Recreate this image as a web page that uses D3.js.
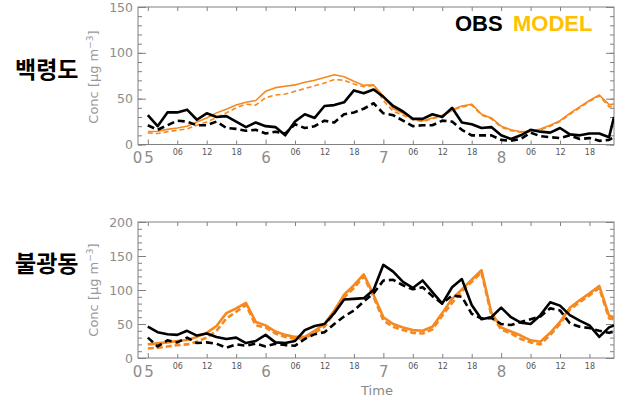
<!DOCTYPE html>
<html><head><meta charset="utf-8">
<script src="https://cdn.jsdelivr.net/npm/d3@7/dist/d3.min.js"></script>
<style>body{margin:0;background:#fff}svg{display:block}</style>
</head><body><svg id="chart" width="640" height="404"></svg>
<script>
// ---- data (hour from day 5 00h) ----
const hours = [0,2,4,6,8,10,12,14,16,18,20,22,24,26,28,30,32,34,36,38,40,42,44,46,48,50,52,54,56,58,60,62,64,66,68,70,72,74,76,78,80,82,84,86,88,90,92,94,95];
const dayTicks = [0,24,48,72];
const dayLabels = ["05","6","7","8"];
const hourTicks = [6,12,18,30,36,42,54,60,66,78,84,90];
const hourLabels = ["06","12","18","06","12","18","06","12","18","06","12","18"];
const stations = ["백령도","불광동"];
const legendLabels = ["OBS","MODEL"];

// 백령도
const topObsSolid = [32,20,35,35,38,27,34,30,31,25, 19,24,20,19,10,25,33,29,42,43, 46,59,56,60,52,42,36,28,28,33, 30,40,24,22,18,19,10,6,10,16, 14,13,18,11,10,12,12,8,30];
const topObsDash  = [21,16,21,26,25,21,21,25,18,17, 15,16,12,14,12,22,18,20,26,24, 33,35,39,45,34,32,26,20,21,21, 26,25,16,10,10,10,5,4,6,13, 9,8,7,10,6,7,4,5,8];
const topModSolid = [14,14.5,16.5,18,20,24.5,29,34.5,38.5,43, 46,48,58,62,63.5,65,68,70,73,76, 74,69,64.5,65,53,39,34,28,26,29, 32,38,42,44,33,29,20,16,14,14.5, 17,21,26,34,41,48,54,43.5,44];
const topModDash  = [12.5,12,14,15.5,17,21,24.5,29.5,34.5,40, 44,43,51,54,55,58,61,64,67,71, 70,66,63,64.5,48,36,32,27,25,28, 31,37,41,43,32,28,19,15,13.5,14, 16,20,25,33,40,47,53,41,42];
// 불광동
const botObsSolid = [46,38,35,34,40,33,36,31,28,30, 22,25,34,23,22,25,41,47,50,66, 86,87,88,100,137,127,112,103,114,97, 80,104,116,78,57,60,74,60,52,50, 63,82,77,63,55,48,31,45,48];
const botObsDash  = [30,17,26,23,30,22,23,21,15,20, 18,21,17,21,19,18,28,35,38,50, 61,70,83,95,114,115,107,101,104,91, 80,92,90,65,58,59,50,48.5,53,57, 61,73,70,51,46,44,40,37,39];
const botModSolid = [20,21.5,23,25,26.5,31,37,47,66,73, 81,53,48,39,34,31,31,40,50,70, 93,107,123,93,60,50,45,41,40,46, 66,87,101,115,129,67,45,39,33,26, 24,37,53,74,85,95,106,62,60];
const botModDash  = [14,15,17,19,20,24,30,40,58,68, 78,48,45,36,31,28,29,37,46,66, 89,103,120,90,55,46,41,37,36,42, 62,81,98,112,126,63,42,36,28,23, 20,34,50,71,82,92,103,58,57];

const topYMajor = [0,50,100,150];
const botYMajor = [0,50,100,150,200];

// ---- drawing ----
const svg = d3.select("#chart");
svg.append("rect").attr("width",640).attr("height",404).attr("fill","#fff");
const x = d3.scaleLinear().domain([-2,95]).range([138,614]);
const AX = "#808080", TX = "#8c8c8c";
const OBS = "#000000", MOD = "#f5881f";

const panels = [
  {name:stations[0], top:7, bottom:144.5, ymax:150, major:topYMajor,
   obsS:topObsSolid, obsD:topObsDash, modS:topModSolid, modD:topModDash, modW:1.6, nameY:78, titleY:77},
  {name:stations[1], top:222, bottom:358, ymax:200, major:botYMajor,
   obsS:botObsSolid, obsD:botObsDash, modS:botModSolid, modD:botModDash, modW:2.6, nameY:272, titleY:290}
];

panels.forEach((p,pi) => {
  const y = d3.scaleLinear().domain([0,p.ymax]).range([p.bottom,p.top]);
  const minor = d3.range(0,p.ymax+1,10);
  const g = svg.append("g");
  const styleAxis = sel => {
    sel.select(".domain").remove();
    sel.selectAll("line").attr("stroke",AX);
    sel.selectAll("text").attr("fill",TX).attr("font-family","DejaVu Sans").attr("font-size",12.5);
  };
  // y axes
  g.append("g").attr("transform","translate(138,0)")
    .call(d3.axisLeft(y).tickValues(minor).tickSize(-4).tickFormat("")).call(styleAxis);
  g.append("g").attr("transform","translate(138,0)")
    .call(d3.axisLeft(y).tickValues(p.major).tickSize(-8).tickPadding(5)).call(styleAxis);
  g.append("g").attr("transform","translate(614,0)")
    .call(d3.axisRight(y).tickValues(minor).tickSize(-4).tickFormat("")).call(styleAxis);
  g.append("g").attr("transform","translate(614,0)")
    .call(d3.axisRight(y).tickValues(p.major).tickSize(-8).tickFormat("")).call(styleAxis);
  // x axes
  g.append("g").attr("transform",`translate(0,${p.bottom})`)
    .call(d3.axisBottom(x).tickValues(hourTicks).tickSize(-4).tickPadding(5)
      .tickFormat((d,i)=>hourLabels[i])).call(styleAxis)
    .selectAll("text").attr("font-size",8).attr("fill","#555");
  g.append("g").attr("transform",`translate(0,${p.bottom})`)
    .call(d3.axisBottom(x).tickValues(dayTicks).tickSize(-5).tickPadding(8)
      .tickFormat((d,i)=>dayLabels[i])).call(styleAxis)
    .selectAll("text").attr("font-size",15).attr("letter-spacing",(d,i)=>i===0?"2px":"0")
      .attr("dx",(d,i)=>i===0?-4:0);
  g.append("g").attr("transform",`translate(0,${p.top})`)
    .call(d3.axisTop(x).tickValues(hourTicks.concat(dayTicks)).tickSize(-4).tickFormat("")).call(styleAxis);
  // box
  g.append("rect").attr("x",138).attr("y",p.top).attr("width",476).attr("height",p.bottom-p.top)
    .attr("fill","none").attr("stroke",AX).attr("stroke-width",1);

  // lines
  const clipId = "clip"+pi;
  svg.append("clipPath").attr("id",clipId).append("rect")
    .attr("x",138).attr("y",p.top).attr("width",476).attr("height",p.bottom-p.top);
  const lg = g.append("g").attr("clip-path",`url(#${clipId})`);
  const line = d3.line().x((d,i)=>x(hours[i])).y(d=>y(d));
  const draw = (data,color,w,dash) => lg.append("path").datum(data).attr("d",line)
    .attr("fill","none").attr("stroke",color).attr("stroke-width",w)
    .attr("stroke-linejoin","round").attr("stroke-dasharray",dash||null);
  draw(p.modD, MOD, p.modW, pi===0?"5,3":"6,3");
  draw(p.modS, MOD, p.modW);
  draw(p.obsD, OBS, 2.6, "7,4");
  draw(p.obsS, OBS, 2.6);

  // y title
  const t = svg.append("text").attr("transform",`translate(98,${p.titleY}) rotate(-90)`)
    .attr("text-anchor","middle").attr("fill","#999").attr("font-family","DejaVu Sans").attr("font-size",13);
  t.append("tspan").text("Conc [μg m");
  t.append("tspan").attr("font-size",9).attr("dy",-5).text("−3");
  t.append("tspan").attr("dy",5).text("]");
  // station name
  svg.append("text").attr("x",15).attr("y",p.nameY).attr("fill","#000")
    .attr("font-family","Noto Sans CJK KR").attr("font-weight",700).attr("font-size",23).text(p.name);
});

svg.append("text").attr("x",377).attr("y",395).attr("text-anchor","middle").attr("fill","#888")
  .attr("font-family","DejaVu Sans").attr("font-size",13).text("Time");

svg.append("text").attr("x",455).attr("y",31).attr("font-family","Liberation Sans")
  .attr("font-weight",700).attr("font-size",22).attr("fill","#000").text(legendLabels[0]);
svg.append("text").attr("x",513).attr("y",31).attr("font-family","Liberation Sans")
  .attr("font-weight",700).attr("font-size",22).attr("fill","#ffc000").text(legendLabels[1]);
</script></body></html>
